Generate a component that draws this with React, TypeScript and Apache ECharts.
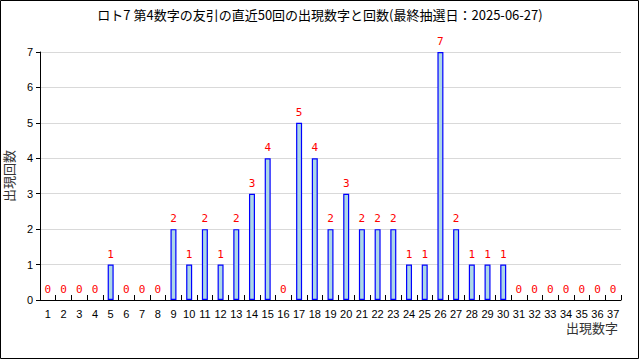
import React, { useEffect, useRef } from "react";
import * as echarts from "echarts";

const titleText = "ロト7 第4数字の友引の直近50回の出現数字と回数(最終抽選日：2025-06-27)";
const categories = [
  "1", "2", "3", "4", "5", "6", "7", "8", "9", "10",
  "11", "12", "13", "14", "15", "16", "17", "18", "19", "20",
  "21", "22", "23", "24", "25", "26", "27", "28", "29", "30",
  "31", "32", "33", "34", "35", "36", "37",
];
const counts = [
  0, 0, 0, 0, 1, 0, 0, 0, 2, 1,
  2, 1, 2, 3, 4, 0, 5, 4, 2, 3,
  2, 2, 2, 1, 1, 7, 2, 1, 1, 1,
  0, 0, 0, 0, 0, 0, 0,
];
const yTicks = [0, 1, 2, 3, 4, 5, 6, 7];
const xAxisName = "出現数字";
const yAxisName = "出現回数";

export default function App() {
  const ref = useRef<HTMLDivElement>(null);
  useEffect(() => {
    if (!ref.current) return;
    const chart = echarts.init(ref.current, null, { renderer: "svg" });
    const barData = counts.map((v) =>
      v === 0 ? { value: v, itemStyle: { borderWidth: 0 } } : { value: v }
    );
    chart.setOption({
      animation: false,
      backgroundColor: "#ffffff",
      title: {
        text: titleText,
        left: "center",
        top: 3,
        textStyle: {
          fontFamily: "Noto Sans CJK JP",
          fontSize: 13,
          fontWeight: "normal",
          color: "#000",
        },
      },
      grid: {
        left: 40,
        right: 19,
        top: 52,
        bottom: 60,
        containLabel: false,
        outerBoundsMode: "none",
      },
      xAxis: {
        type: "category",
        data: categories,
        name: xAxisName,
        nameLocation: "end",
        nameGap: -3,
        nameTextStyle: {
          fontFamily: "Noto Sans CJK JP",
          fontSize: 13,
          color: "#333",
          align: "right",
          verticalAlign: "top",
          padding: [21, 0, 0, 0],
        },
        axisLine: { lineStyle: { color: "#000", width: 1 } },
        axisTick: { show: true, inside: true, length: 5, alignWithLabel: false, lineStyle: { color: "#000" } },
        axisLabel: {
          interval: 0,
          fontSize: 11,
          color: "#000",
          margin: 8,
          fontFamily: "Liberation Sans",
        },
        splitLine: { show: false },
      },
      yAxis: {
        type: "value",
        min: yTicks[0],
        max: yTicks[yTicks.length - 1],
        interval: 1,
        name: yAxisName,
        nameLocation: "middle",
        nameRotate: 90,
        nameGap: 25,
        nameTextStyle: {
          fontFamily: "Noto Sans CJK JP",
          fontSize: 13,
          color: "#333",
        },
        axisLine: { show: true, lineStyle: { color: "#000", width: 1 } },
        axisTick: { show: true, inside: false, length: 4, lineStyle: { color: "#000" } },
        axisLabel: { fontSize: 11, color: "#000", margin: 7, fontFamily: "Liberation Sans" },
        splitLine: { show: true, lineStyle: { color: "#d9d9d9", width: 1 } },
      },
      series: [
        {
          type: "bar",
          data: barData,
          barWidth: 6,
          itemStyle: {
            color: "#add8e6",
            borderColor: "#0000ff",
            borderWidth: 1.2,
          },
          label: {
            show: true,
            position: "top",
            distance: 5,
            color: "#ff0000",
            fontSize: 11,
            fontFamily: "DejaVu Sans Mono",
          },
        },
      ],
      graphic: [
        {
          type: "rect",
          shape: { x: 0.5, y: 0.5, width: 638, height: 358 },
          style: { fill: "none", stroke: "#000", lineWidth: 1 },
          silent: true,
        },
      ],
    });
    return () => chart.dispose();
  }, []);
  return (
    <div
      ref={ref}
      style={{ position: "absolute", left: 0, top: 0, width: 640, height: 360 }}
    />
  );
}
